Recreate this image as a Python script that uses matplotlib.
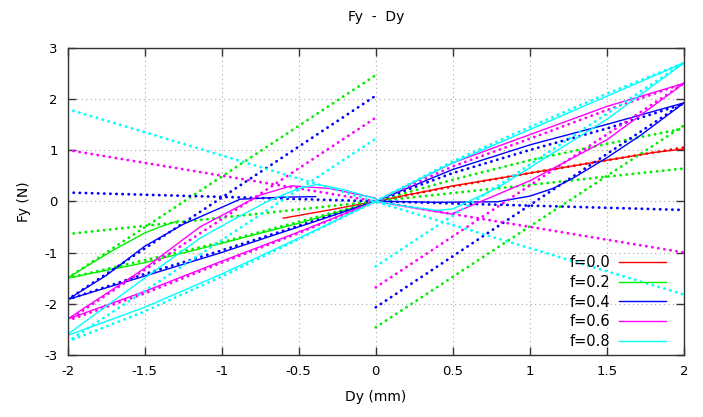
#!/usr/bin/env python3
"""Fy - Dy hysteresis loops for several f values (gnuplot look)."""

import matplotlib
matplotlib.use("Agg")
import matplotlib.pyplot as plt

# ── Data ─────────────────────────────────────────────────────────────

f_labels = ["f=0.0", "f=0.2", "f=0.4", "f=0.6", "f=0.8"]
colors = ["#ff0000", "#00ee00", "#0000ff", "#ff00ff", "#00ffff"]

# f=0.0 (red)
red_solid_x = [-0.6, -0.3, 0.0, 0.5, 1.0, 1.5, 1.8, 2.0]
red_solid_y = [-0.33, -0.17, 0.0, 0.3, 0.55, 0.8, 0.95, 1.02]
red_dot_x = [0.0, 0.5, 1.0, 1.5, 2.0]
red_dot_y = [0.0, 0.29, 0.55, 0.8, 1.05]

# lower-left branch (solid), shared x
low_left_x = [-2.0, -1.5, -1.0, -0.5, 0.0]
green_low_left_y = [-1.5, -1.2, -0.82, -0.43, 0.0]
blue_low_left_y = [-1.92, -1.46, -1.0, -0.5, 0.0]
mag_low_left_y = [-2.3, -1.76, -1.17, -0.6, 0.0]
cyan_low_left_y = [-2.62, -2.07, -1.42, -0.72, 0.0]

# upper-left curves (solid)
green_up_left_x = [-2.0, -1.85, -1.7, -1.5, -1.4, -1.28]
green_up_left_y = [-1.5, -1.22, -0.95, -0.62, -0.5, -0.38]
blue_up_left_x = [-2.0, -1.75, -1.5, -1.25, -1.0, -0.88, -0.6, -0.39]
blue_up_left_y = [-1.92, -1.45, -0.88, -0.45, -0.12, 0.04, 0.08, 0.09]
mag_up_left_x = [-2.0, -1.5, -1.14, -0.95, -0.75, -0.55, -0.3, 0.0]
mag_up_left_y = [-2.3, -1.31, -0.5, -0.2, 0.12, 0.3, 0.25, 0.06]
cyan_up_left_x = [-2.0, -1.5, -1.14, -0.95, -0.7, -0.5, -0.38, -0.2, 0.0]
cyan_up_left_y = [-2.6, -1.5, -0.72, -0.4, 0.0, 0.25, 0.33, 0.22, 0.05]

# upper-right branch (solid), shared x
up_right_x = [0.0, 0.5, 1.0, 1.5, 2.0]
blue_up_right_y = [0.0, 0.62, 1.1, 1.5, 1.92]
mag_up_right_y = [0.0, 0.75, 1.3, 1.85, 2.3]
cyan_up_right_y = [0.0, 0.75, 1.4, 2.05, 2.7]

# lower-right curves (solid)
blue_low_right_x = [0.0, 0.4, 0.79, 1.0, 1.15, 1.28, 1.5, 1.72, 2.0]
blue_low_right_y = [0.0, -0.02, -0.01, 0.1, 0.25, 0.45, 0.85, 1.29, 1.92]
mag_low_right_x = [0.0, 0.25, 0.49, 1.0, 1.5, 2.0]
mag_low_right_y = [0.0, -0.13, -0.25, 0.4, 1.2, 2.3]
cyan_low_right_x = [0.0, 0.2, 0.4, 0.5, 0.8, 1.5, 2.0]
cyan_low_right_y = [0.0, -0.1, -0.18, -0.15, 0.28, 1.6, 2.7]

# dotted straight lines: through origin (A), left rise (B), right rise (C)
line_a_x = [-2.0, 2.0]
green_a_y = [-0.64, 0.64]
blue_a_y = [0.17, -0.17]
mag_a_y = [1.0, -1.0]
cyan_a_y = [1.8, -1.82]

line_b_x = [-2.0, 0.0]
green_b_y = [-1.5, 2.46]
blue_b_y = [-1.92, 2.06]
mag_b_y = [-2.33, 1.63]
cyan_b_y = [-2.74, 1.22]

line_c_x = [0.0, 2.0]
green_c_y = [-2.46, 1.48]
blue_c_y = [-2.07, 1.92]
mag_c_y = [-1.68, 2.3]
cyan_c_y = [-1.27, 2.7]

# dotted branches near the solid ones
green_dot_up_right_y = [0.0, 0.42, 0.8, 1.12, 1.42]
blue_dot_up_right_y = [0.0, 0.55, 1.0, 1.42, 1.9]
mag_dot_up_right_y = [0.0, 0.68, 1.22, 1.78, 2.3]
cyan_dot_up_right_y = [0.0, 0.78, 1.45, 2.1, 2.7]

green_dot_low_left_y = [-1.5, -1.15, -0.8, -0.4, 0.0]
blue_dot_low_left_y = [-1.92, -1.42, -0.96, -0.48, 0.0]
mag_dot_low_left_y = [-2.33, -1.8, -1.2, -0.62, 0.0]
cyan_dot_low_left_y = [-2.74, -2.15, -1.47, -0.74, 0.0]

# ── Plot ──────────────────────────────────────────────────────────────

plt.rcParams["font.family"] = ["DejaVu Sans"]
fig = plt.figure(figsize=(7.03, 4.17), dpi=100)
ax = fig.add_axes([67.5 / 703, 1 - 355 / 417, (684 - 67.5) / 703, (355 - 47.5) / 417])

DOT = dict(linestyle=(0, (0.1, 2.1)), lw=2.0, dash_capstyle="round")
SOL = dict(lw=1.0)

# red
ax.plot(red_dot_x, red_dot_y, color=colors[0], **DOT)
ax.plot(red_solid_x, red_solid_y, color=colors[0], label=f_labels[0], **SOL)

# green
c = colors[1]
ax.plot(line_a_x, green_a_y, color=c, **DOT)
ax.plot(line_b_x, green_b_y, color=c, **DOT)
ax.plot(line_c_x, green_c_y, color=c, **DOT)
ax.plot(up_right_x, green_dot_up_right_y, color=c, **DOT)
ax.plot(low_left_x, green_dot_low_left_y, color=c, **DOT)
ax.plot(low_left_x, green_low_left_y, color=c, label=f_labels[1], **SOL)
ax.plot(green_up_left_x, green_up_left_y, color=c, **SOL)

# blue
c = colors[2]
ax.plot(line_a_x, blue_a_y, color=c, **DOT)
ax.plot(line_b_x, blue_b_y, color=c, **DOT)
ax.plot(line_c_x, blue_c_y, color=c, **DOT)
ax.plot(up_right_x, blue_dot_up_right_y, color=c, **DOT)
ax.plot(low_left_x, blue_dot_low_left_y, color=c, **DOT)
ax.plot(low_left_x, blue_low_left_y, color=c, label=f_labels[2], **SOL)
ax.plot(blue_up_left_x, blue_up_left_y, color=c, **SOL)
ax.plot(up_right_x, blue_up_right_y, color=c, **SOL)
ax.plot(blue_low_right_x, blue_low_right_y, color=c, **SOL)

# magenta
c = colors[3]
ax.plot(line_a_x, mag_a_y, color=c, **DOT)
ax.plot(line_b_x, mag_b_y, color=c, **DOT)
ax.plot(line_c_x, mag_c_y, color=c, **DOT)
ax.plot(up_right_x, mag_dot_up_right_y, color=c, **DOT)
ax.plot(low_left_x, mag_dot_low_left_y, color=c, **DOT)
ax.plot(low_left_x, mag_low_left_y, color=c, label=f_labels[3], **SOL)
ax.plot(mag_up_left_x, mag_up_left_y, color=c, **SOL)
ax.plot(up_right_x, mag_up_right_y, color=c, **SOL)
ax.plot(mag_low_right_x, mag_low_right_y, color=c, **SOL)

# cyan
c = colors[4]
ax.plot(line_a_x, cyan_a_y, color=c, **DOT)
ax.plot(line_b_x, cyan_b_y, color=c, **DOT)
ax.plot(line_c_x, cyan_c_y, color=c, **DOT)
ax.plot(up_right_x, cyan_dot_up_right_y, color=c, **DOT)
ax.plot(low_left_x, cyan_dot_low_left_y, color=c, **DOT)
ax.plot(low_left_x, cyan_low_left_y, color=c, label=f_labels[4], **SOL)
ax.plot(cyan_up_left_x, cyan_up_left_y, color=c, **SOL)
ax.plot(up_right_x, cyan_up_right_y, color=c, **SOL)
ax.plot(cyan_low_right_x, cyan_low_right_y, color=c, **SOL)

ax.set_xlim(-2, 2)
ax.set_ylim(-3, 3)
ax.set_xticks([-2, -1.5, -1, -0.5, 0, 0.5, 1, 1.5, 2])
ax.set_xticklabels(["-2", "-1.5", "-1", "-0.5", "0", "0.5", "1", "1.5", "2"])
ax.set_yticks([-3, -2, -1, 0, 1, 2, 3])
ax.set_yticklabels(["-3", "-2", "-1", "0", "1", "2", "3"])
ax.tick_params(direction="in", length=6, width=1, top=True, right=True,
               labelsize=9.5, pad=7, colors="#333333", labelcolor="black")
ax.grid(True, color="#a8a8a8", linestyle=(0, (1, 3)), lw=0.8)
for s in ax.spines.values():
    s.set_color("#333333")
    s.set_linewidth(1.0)

ax.set_xlabel("Dy (mm)", fontsize=10, labelpad=9)
ax.set_ylabel("Fy (N)", fontsize=10, labelpad=10)
fig.text((67.5 + 684) / 2 / 703, 1 - 17 / 417, "Fy  -  Dy", ha="center",
         va="center", fontsize=10)

leg = ax.legend(loc="lower right", bbox_to_anchor=(0.98, 0.0), frameon=False,
                markerfirst=False, fontsize=10.5, handlelength=3.2,
                labelspacing=0.33, borderaxespad=0.0, handletextpad=0.6)

fig.savefig("out.png", dpi=100)
